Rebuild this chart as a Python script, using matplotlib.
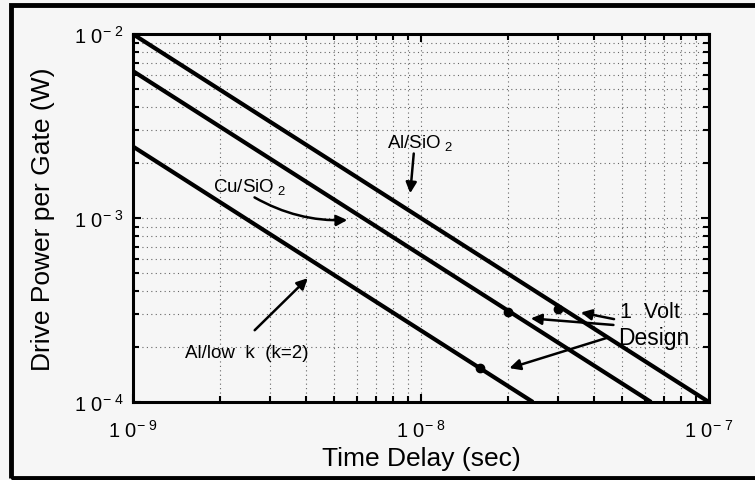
"""Drive power per gate vs. time delay for three interconnect options."""
import matplotlib
matplotlib.use('Agg')
import matplotlib.pyplot as plt
from matplotlib.patches import Rectangle
from matplotlib.ticker import LogLocator, NullFormatter, FixedLocator

# line end points (delay in s, power in W)
materials = ['Al/SiO2', 'Cu/SiO2', 'Al/low k']
delay_start = [1e-9, 1e-9, 1e-9]
power_start = [1e-2, 6.3e-3, 2.45e-3]
delay_end = [1e-7, 6.3e-8, 2.45e-8]
power_end = [1e-4, 1e-4, 1e-4]

# 1 Volt design points
design_delay = [3.0e-8, 2.0e-8, 1.6e-8]
design_power = [3.2e-4, 3.1e-4, 1.53e-4]

x_ticks = [1e-9, 1e-8, 1e-7]
x_ticklabels = ['1 0$^{-\\ 9}$', '1 0$^{-\\ 8}$', '1 0$^{-\\ 7}$']
y_ticks = [1e-4, 1e-3, 1e-2]
y_ticklabels = ['1 0$^{-\\ 4}$', '1 0$^{-\\ 3}$', '1 0$^{-\\ 2}$']

plt.rcParams['font.family'] = ['Liberation Sans', 'DejaVu Sans']
plt.rcParams['mathtext.default'] = 'regular'

bg = '#f6f6f6'
fig = plt.figure(figsize=(7.55, 4.81), dpi=100, facecolor=bg)
ax = fig.add_axes([0.176, 0.162, 0.763, 0.765], facecolor=bg)

for xs, ys, xe, ye in zip(delay_start, power_start, delay_end, power_end):
    ax.plot([xs, xe], [ys, ye], color='black', lw=3, solid_capstyle='butt')
ax.plot(design_delay, design_power, 'o', color='black', ms=6)

ax.set_xscale('log')
ax.set_yscale('log')
ax.set_xlim(1e-9, 1e-7)
ax.set_ylim(1e-4, 1e-2)

ax.xaxis.set_major_locator(FixedLocator(x_ticks))
ax.yaxis.set_major_locator(FixedLocator(y_ticks))
ax.set_xticklabels(x_ticklabels)
ax.set_yticklabels(y_ticklabels)
ax.xaxis.set_minor_locator(LogLocator(base=10, subs=range(2, 10)))
ax.yaxis.set_minor_locator(LogLocator(base=10, subs=range(2, 10)))
ax.xaxis.set_minor_formatter(NullFormatter())
ax.yaxis.set_minor_formatter(NullFormatter())

ax.tick_params(which='both', direction='in', top=True, right=True,
               labelsize=14.5, width=1.5, color='black')
ax.tick_params(which='major', length=6)
ax.tick_params(which='minor', length=4)
ax.tick_params(axis='x', pad=12)
ax.tick_params(axis='y', pad=6)

ax.grid(True, which='both', color='0.4', lw=0.8, linestyle=(0, (1, 3)))
for sp in ax.spines.values():
    sp.set_linewidth(2.2)

ax.set_xlabel('Time Delay (sec)', fontsize=19, labelpad=4)
ax.set_ylabel('Drive Power per Gate (W)', fontsize=19, labelpad=14)

arrow = dict(arrowstyle='-|>', color='black', lw=1.8, mutation_scale=16)
tf = ax.transAxes

# Al/SiO2
ax.text(0.441, 0.693, 'Al/SiO$_{\\ 2}$', transform=tf, fontsize=13.5)
ax.annotate('', xy=(0.481, 0.560), xytext=(0.488, 0.683),
            xycoords=tf, textcoords=tf, arrowprops=arrow)

# Cu/SiO2
ax.text(0.139, 0.573, 'Cu/SiO$_{\\ 2}$', transform=tf, fontsize=13.5)
ax.annotate('', xy=(0.377, 0.495), xytext=(0.207, 0.560),
            xycoords=tf, textcoords=tf,
            arrowprops=dict(arrow, connectionstyle='arc3,rad=0.15'))

# Al/low k
ax.text(0.090, 0.122, 'Al/low  k  (k=2)', transform=tf, fontsize=13.5)
ax.annotate('', xy=(0.307, 0.342), xytext=(0.208, 0.190),
            xycoords=tf, textcoords=tf, arrowprops=arrow)

# 1 Volt design
ax.text(0.845, 0.231, '1  Volt', transform=tf, fontsize=15.5)
ax.text(0.842, 0.158, 'Design', transform=tf, fontsize=16.5)
for start, tip in [((0.840, 0.224), (0.773, 0.245)),
                   ((0.839, 0.209), (0.686, 0.228)),
                   ((0.828, 0.177), (0.649, 0.090))]:
    ax.annotate('', xy=tip, xytext=start, xycoords=tf, textcoords=tf,
                arrowprops=arrow)

# thick frame round the whole figure
fig.patches.append(Rectangle((0.014, 0.005), 1.2, 0.983, transform=fig.transFigure,
                             fill=False, lw=3.5, edgecolor='black'))

fig.savefig('out.png', dpi=100, facecolor=bg)
